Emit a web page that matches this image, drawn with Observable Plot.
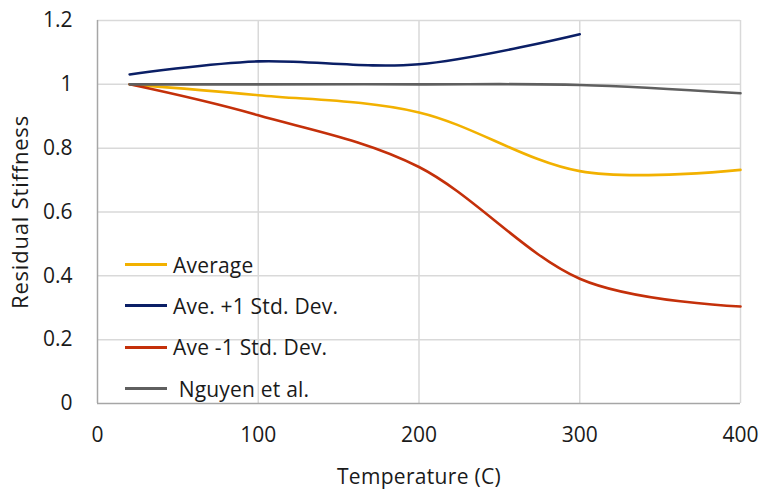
<!DOCTYPE html>
<html>
<head>
<meta charset="utf-8">
<script src="https://cdn.jsdelivr.net/npm/d3@7"></script>
<script src="https://cdn.jsdelivr.net/npm/@observablehq/plot@0.6"></script>
<style>
  html, body { margin: 0; padding: 0; background: #fff; }
  #chart { position: relative; width: 759px; height: 491px; font-family: "Open Sans", sans-serif; }
  #legend { position: absolute; left: 125px; top: 244px; }
  .row { display: flex; align-items: center; height: 41.3px; font-size: 21px; letter-spacing: 0.2px; color: #1a1a1a; }
  .swatch { width: 42px; height: 3px; margin-right: 6px; }
  svg [aria-label="y-axis label"] text { font-size: 22px; letter-spacing: 0.8px; }
  svg [aria-label="x-axis label"] text { font-size: 21px; letter-spacing: 0.3px; }
</style>
</head>
<body>
<div id="chart"><div id="legend"></div></div>
<script>
// Temperatures (°C) where residual stiffness was measured
const temps = [20, 100, 200, 300, 400];

// Residual stiffness series
const average = [1.0, 0.966, 0.912, 0.728, 0.732];
const avePlus = [1.031, 1.072, 1.063, 1.157];          // measured only up to 300 °C
const aveMinus = [1.0, 0.903, 0.741, 0.391, 0.304];
const nguyen = [1.0, 1.0, 1.0, 0.998, 0.972];

const seriesNames = ["Average", "Ave. +1 Std. Dev.", "Ave -1 Std. Dev.", " Nguyen et al."];
const seriesColors = ["#F2B100", "#0B1F66", "#C4300A", "#5F5F5F"];
const seriesValues = [average, avePlus, aveMinus, nguyen];

const yTicks = [0, 0.2, 0.4, 0.6, 0.8, 1.0, 1.2];
const xTicks = [0, 100, 200, 300, 400];

const rows = seriesValues.flatMap((vals, i) =>
  vals.map((v, j) => ({series: seriesNames[i], t: temps[j], s: v})));

const chart = Plot.plot({
  width: 759,
  height: 491,
  marginLeft: 97,
  marginRight: 19,
  marginTop: 20,
  marginBottom: 88,
  style: {fontFamily: "'Open Sans', sans-serif", fontSize: "21px", color: "#1a1a1a", background: "#fff"},
  x: {domain: [0, 400]},
  y: {domain: [0, 1.2]},
  color: {domain: seriesNames, range: seriesColors},
  marks: [
    Plot.gridX(xTicks.filter(d => d > 0), {stroke: "#d9d9d9", strokeOpacity: 1, strokeWidth: 1.5}),
    Plot.gridY(yTicks.filter(d => d > 0), {stroke: "#d9d9d9", strokeOpacity: 1, strokeWidth: 1.5}),
    Plot.ruleX([0], {stroke: "#a6a6a6", strokeWidth: 1.5}),
    Plot.ruleY([0], {stroke: "#a6a6a6", strokeWidth: 1.5}),
    Plot.axisX(xTicks, {tickSize: 0, tickPadding: 24, label: "Temperature (C)", labelAnchor: "center", labelArrow: false, labelOffset: 80}),
    Plot.axisY(yTicks, {tickSize: 0, tickPadding: 25, tickFormat: d => String(+d.toFixed(1)), label: "Residual Stiffness", labelAnchor: "center", labelArrow: false, labelOffset: 85}),
    Plot.line(rows, {x: "t", y: "s", z: "series", stroke: "series", strokeWidth: 2.6, curve: "cardinal"})
  ]
});

document.getElementById("chart").prepend(chart);
chart.style.position = "absolute";
chart.style.left = "0";
chart.style.top = "0";

// Legend placed inside the plot area
const legend = d3.select("#legend");
seriesNames.forEach((name, i) => {
  const row = legend.append("div").attr("class", "row");
  row.append("div").attr("class", "swatch").style("background", seriesColors[i]);
  row.append("span").text(name).style("white-space", "pre");
});
</script>
</body>
</html>
